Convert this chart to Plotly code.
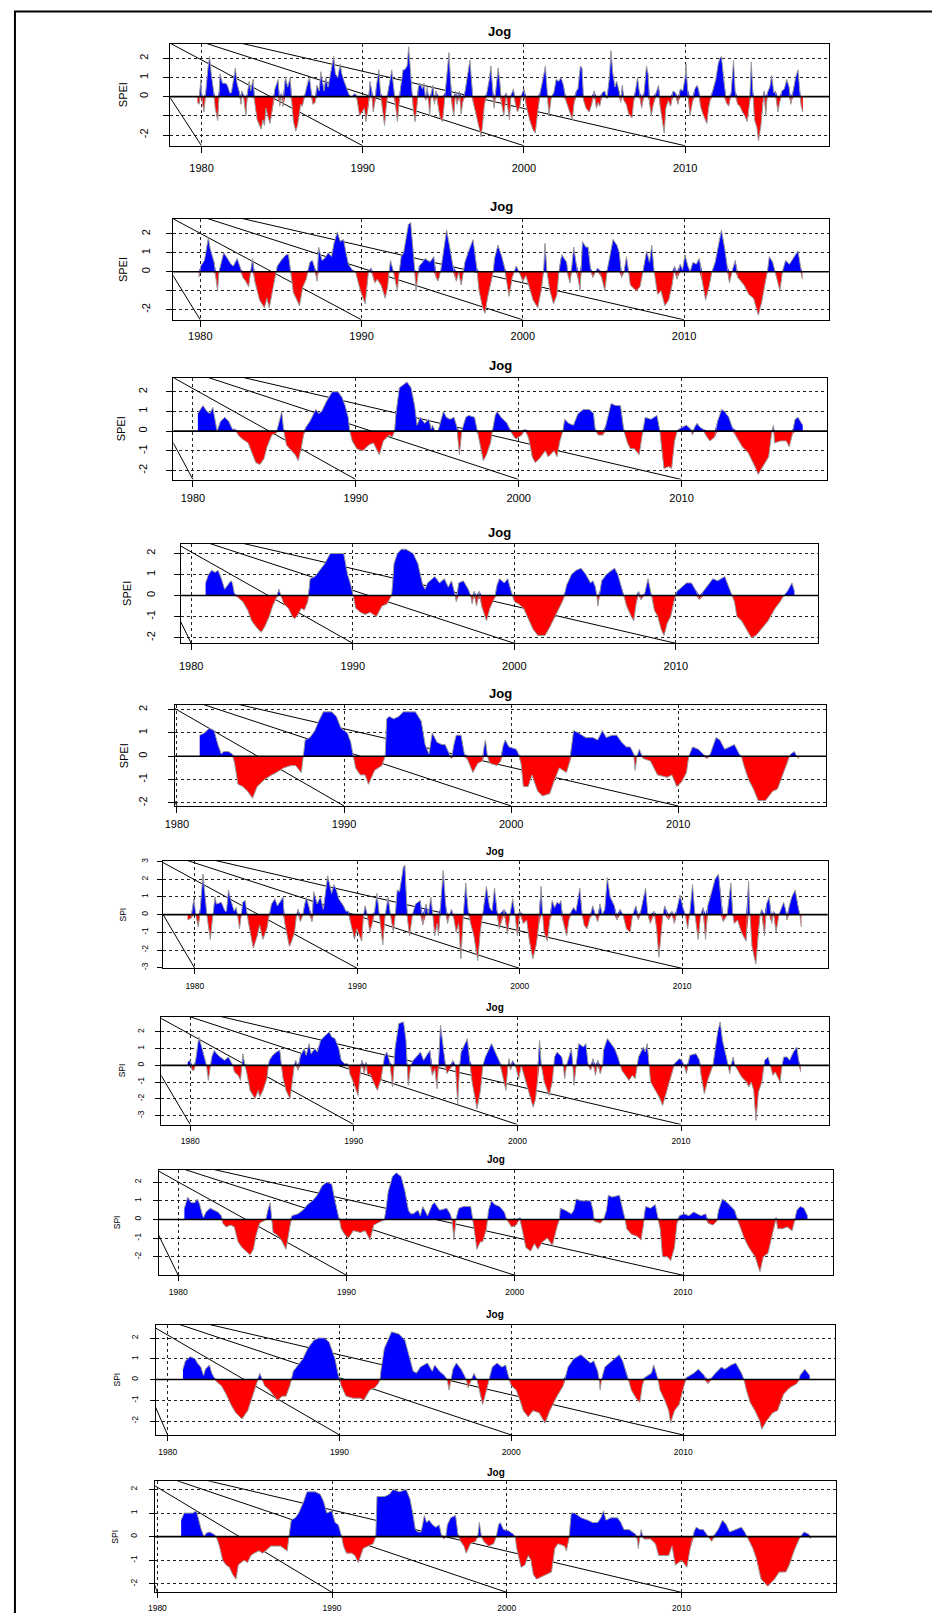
import plotly.graph_objects as go

W, H = 932, 1613
DECADES = [1980, 1990, 2000, 2010]
STATION = "Jog"

# (decimal year, index value)
spei_1 = [(1979.75,-0.3),(1979.85,-0.4),(1979.95,0.9),(1980.05,-0.3),(1980.15,-0.8),(1980.25,0.2),(1980.4,1.5),(1980.5,2.1),(1980.6,1.2),(1980.75,0.3),
(1980.85,-0.6),(1981.0,-1.25),(1981.1,0.3),(1981.15,1.2),(1981.3,0.7),(1981.5,0.7),(1981.6,0.6),(1981.75,0.2),(1981.85,0.2),(1982.0,1.0),
(1982.1,1.5),(1982.2,0.7),(1982.35,0.2),(1982.45,-0.4),(1982.5,0.3),(1982.6,0.1),(1982.75,-1.0),(1982.85,0.2),(1982.95,0.8),(1983.05,0.3),
(1983.2,0.9),(1983.3,-0.3),(1983.45,-1.2),(1983.6,-1.5),(1983.7,-1.7),(1983.8,-1.2),(1983.9,-1.5),(1984.0,-0.6),(1984.1,-1.0),(1984.25,-1.4),
(1984.35,-0.9),(1984.45,-0.3),(1984.55,0.4),(1984.65,0.7),(1984.75,0.9),(1984.85,-0.5),(1984.95,0.2),(1985.05,-0.5),(1985.2,1.0),(1985.35,0.5),
(1985.5,1.0),(1985.6,-0.3),(1985.7,-1.3),(1985.85,-1.8),(1985.95,-1.5),(1986.05,-1.0),(1986.15,-0.4),(1986.25,-0.5),(1986.4,0.1),(1986.6,0.8),
(1986.7,1.0),(1986.8,0.3),(1986.9,-0.4),(1987.05,-0.3),(1987.15,0.6),(1987.3,0.3),(1987.4,1.3),(1987.5,0.8),(1987.6,0.3),(1987.7,1.0),
(1987.85,0.5),(1988.0,1.2),(1988.1,1.6),(1988.2,2.1),(1988.3,1.2),(1988.45,1.0),(1988.6,1.7),(1988.7,1.2),(1988.85,0.8),(1989.0,0.4),
(1989.15,0.1),(1989.3,0.0),(1989.5,0.15),(1989.6,0.1),(1989.7,-0.4),(1989.8,-1.0),(1989.95,-0.8),(1990.1,-0.6),(1990.2,-1.3),(1990.35,-0.4),
(1990.45,0.8),(1990.55,0.3),(1990.65,-0.8),(1990.75,-0.3),(1990.85,0.6),(1991.0,1.4),(1991.1,0.2),(1991.25,-0.8),(1991.35,-1.5),(1991.45,-0.6),
(1991.55,0.2),(1991.7,0.9),(1991.8,1.4),(1991.9,0.6),(1992.0,-0.3),(1992.15,-1.3),(1992.25,-0.4),(1992.35,0.5),(1992.5,1.4),(1992.6,1.4),
(1992.75,1.6),(1992.85,2.6),(1992.95,1.5),(1993.05,0.2),(1993.15,-0.8),(1993.25,-1.3),(1993.35,-0.6),(1993.45,0.5),(1993.55,0.7),(1993.7,0.4),
(1993.8,0.7),(1993.9,-0.2),(1994.0,0.5),(1994.1,-0.4),(1994.15,-1.0),(1994.25,0.2),(1994.35,0.6),(1994.45,-0.4),(1994.55,0.3),(1994.7,-0.6),
(1994.8,-1.1),(1994.95,-1.3),(1995.1,0.2),(1995.25,1.5),(1995.35,2.3),(1995.45,0.8),(1995.55,-0.5),(1995.65,-1.0),(1995.75,0.3),(1995.85,-0.4),
(1996.0,0.3),(1996.1,-0.9),(1996.2,-0.3),(1996.35,0.3),(1996.5,1.0),(1996.65,1.9),(1996.75,0.8),(1996.85,-0.3),(1997.0,-0.8),(1997.2,-1.5),
(1997.35,-2.1),(1997.45,-1.3),(1997.55,-0.4),(1997.7,0.2),(1997.85,0.9),(1997.95,1.6),(1998.05,0.4),(1998.15,-0.6),(1998.25,0.3),(1998.4,1.5),
(1998.5,0.8),(1998.6,-0.3),(1998.75,-1.0),(1998.9,0.2),(1999.0,-0.6),(1999.1,-1.2),(1999.2,0.1),(1999.35,0.4),(1999.45,-0.3),(1999.6,-0.8),
(1999.75,-0.5),(1999.85,0.1),(2000.0,0.4),(2000.15,-0.5),(2000.35,-1.2),(2000.55,-1.7),(2000.7,-1.9),(2000.85,-0.8),(2001.0,0.2),(2001.2,1.0),
(2001.33,1.6),(2001.45,0.2),(2001.55,-1.0),(2001.7,0.0),(2001.85,0.2),(2002.0,0.9),(2002.15,0.8),(2002.3,1.0),(2002.45,0.6),(2002.6,-0.2),
(2002.75,-0.6),(2002.9,-1.0),(2003.0,-1.2),(2003.1,-0.4),(2003.25,0.3),(2003.35,0.4),(2003.5,1.6),(2003.6,1.5),(2003.7,-0.2),(2003.85,-0.6),
(2004.05,-0.8),(2004.2,-0.4),(2004.35,0.3),(2004.5,-0.6),(2004.6,-0.3),(2004.7,-0.5),(2004.85,0.2),(2005.0,0.3),(2005.15,-0.1),(2005.3,1.0),
(2005.4,2.4),(2005.5,1.3),(2005.65,0.5),(2005.75,0.8),(2005.9,0.3),(2006.0,-0.3),(2006.1,0.6),(2006.2,-0.2),(2006.35,-0.4),(2006.5,-0.9),
(2006.7,-1.1),(2006.8,-0.3),(2006.9,0.3),(2007.05,1.0),(2007.15,0.3),(2007.3,-0.6),(2007.45,0.2),(2007.6,1.6),(2007.7,1.2),(2007.8,-0.4),
(2007.9,-1.0),(2008.0,-0.5),(2008.2,0.2),(2008.35,0.6),(2008.45,-0.5),(2008.6,-1.3),(2008.7,-1.9),(2008.8,-0.6),(2008.95,-0.2),(2009.1,-0.5),
(2009.25,0.3),(2009.4,0.2),(2009.55,-0.4),(2009.7,0.4),(2009.85,0.3),(2010.0,1.0),(2010.05,1.7),(2010.15,0.4),(2010.3,-1.0),(2010.45,-0.3),
(2010.6,0.4),(2010.75,0.6),(2010.85,0.3),(2010.95,-0.5),(2011.1,-0.9),(2011.35,-1.4),(2011.45,-0.6),(2011.55,-0.2),(2011.7,0.3),(2011.9,0.9),
(2012.05,1.7),(2012.15,2.0),(2012.25,2.1),(2012.4,0.8),(2012.55,-0.3),(2012.7,-0.5),(2012.85,0.2),(2013.0,1.9),(2013.1,0.3),(2013.25,-0.4),
(2013.4,-0.5),(2013.55,-0.8),(2013.7,-1.0),(2013.85,-1.3),(2014.0,-0.3),(2014.1,1.8),(2014.2,0.2),(2014.3,-1.2),(2014.45,-1.6),(2014.55,-2.3),
(2014.7,-1.5),(2014.8,-0.4),(2014.9,0.3),(2015.0,-1.0),(2015.1,0.2),(2015.25,0.5),(2015.37,1.1),(2015.5,0.2),(2015.6,0.3),(2015.75,-0.8),
(2015.85,-0.3),(2016.0,0.3),(2016.15,0.4),(2016.3,0.9),(2016.45,0.5),(2016.55,-0.4),(2016.7,0.3),(2016.85,1.0),(2017.0,1.4),(2017.1,0.3),
(2017.2,-0.5),(2017.3,-0.8)]

spei_3 = [(1979.91,-0.3),(1980.03,0.3),(1980.26,0.6),(1980.5,1.8),(1980.62,1.2),(1980.86,0.5),(1980.98,-0.4),(1981.07,-1.0),(1981.16,0.0),(1981.31,0.5),
(1981.45,1.0),(1981.69,0.7),(1981.9,0.4),(1982.05,0.3),(1982.29,0.7),(1982.49,0.2),(1982.64,-0.3),(1982.82,-0.5),(1983.0,-0.8),(1983.12,0.0),
(1983.24,0.7),(1983.38,-0.5),(1983.68,-1.5),(1983.98,-1.9),(1984.13,-1.4),(1984.28,-1.9),(1984.43,-1.2),(1984.57,-0.6),(1984.69,0.0),(1984.78,0.3),
(1985.02,0.6),(1985.32,0.9),(1985.47,0.9),(1985.62,0.0),(1985.77,-1.1),(1986.0,-1.5),(1986.15,-1.8),(1986.36,-0.8),(1986.57,-0.4),(1986.69,0.1),
(1986.8,0.5),(1986.95,0.6),(1987.1,0.2),(1987.25,-0.5),(1987.34,1.3),(1987.55,0.6),(1987.7,0.7),(1987.94,1.0),(1988.14,0.8),(1988.29,1.5),
(1988.5,2.1),(1988.68,1.6),(1988.89,1.7),(1989.04,1.0),(1989.19,0.4),(1989.42,0.1),(1989.63,0.0),(1989.72,-0.3),(1989.93,-1.0),(1990.23,-1.7),
(1990.32,-1.0),(1990.43,0.0),(1990.58,0.2),(1990.73,-0.3),(1990.82,-0.6),(1990.97,-0.4),(1991.21,-0.7),(1991.47,-1.4),(1991.62,-0.8),(1991.71,0.0),
(1991.8,0.6),(1991.98,0.0),(1992.22,-1.0),(1992.34,0.0),(1992.46,0.8),(1992.61,1.0),(1992.91,2.5),(1993.05,2.6),(1993.2,1.2),(1993.29,0.2),
(1993.38,-1.0),(1993.5,0.0),(1993.58,0.3),(1993.79,0.5),(1993.94,0.7),(1994.24,0.5),(1994.48,0.8),(1994.63,-0.3),(1994.75,-0.5),(1994.9,0.0),
(1995.07,1.0),(1995.28,2.2),(1995.49,1.2),(1995.67,0.3),(1995.88,-0.5),(1996.03,0.0),(1996.18,-0.7),(1996.33,0.0),(1996.41,0.5),(1996.68,1.2),
(1996.92,1.7),(1997.15,0.2),(1997.29,-1.0),(1997.51,-1.9),(1997.66,-2.2),(1997.81,-1.4),(1998.05,-0.5),(1998.17,0.0),(1998.25,0.7),(1998.46,1.4),
(1998.7,0.8),(1998.88,0.2),(1999.0,-0.5),(1999.15,-1.3),(1999.35,-0.3),(1999.47,0.0),(1999.59,0.3),(1999.77,0.0),(2000.01,-0.5),(2000.19,-0.2),
(2000.4,-0.8),(2000.64,-1.5),(2000.93,-1.9),(2001.14,-1.0),(2001.29,0.0),(2001.38,1.5),(2001.5,0.0),(2001.68,-1.0),(2001.91,-1.7),(2002.12,-1.2),
(2002.24,0.0),(2002.33,0.6),(2002.42,0.9),(2002.72,0.5),(2002.81,-0.2),(2002.93,-0.6),(2003.04,0.2),(2003.16,1.3),(2003.3,0.5),(2003.46,-0.5),
(2003.55,-1.0),(2003.64,0.5),(2003.7,1.6),(2003.91,1.3),(2004.05,1.3),(2004.2,0.2),(2004.35,-0.3),(2004.5,0.0),(2004.65,0.2),(2004.89,-0.3),
(2005.09,-1.0),(2005.24,0.1),(2005.48,1.2),(2005.6,1.7),(2005.84,1.4),(2005.99,1.0),(2006.13,-0.3),(2006.28,0.0),(2006.43,0.8),(2006.58,0.0),
(2006.67,-0.7),(2007.03,-1.0),(2007.27,-0.8),(2007.45,0.0),(2007.68,1.1),(2007.86,0.5),(2008.0,1.4),(2008.15,0.0),(2008.36,-1.2),(2008.57,-1.0),
(2008.81,-1.8),(2009.05,-1.5),(2009.26,-0.7),(2009.41,0.3),(2009.56,-0.4),(2009.76,0.4),(2009.91,0.1),(2010.06,0.9),(2010.24,0.3),(2010.38,0.0),
(2010.55,0.5),(2010.76,0.4),(2010.95,0.7),(2011.13,-0.5),(2011.34,-1.5),(2011.55,-0.8),(2011.73,0.0),(2011.93,0.5),(2012.14,1.4),(2012.32,2.2),
(2012.53,1.2),(2012.68,0.3),(2012.82,-0.6),(2012.97,0.0),(2013.18,0.6),(2013.33,-0.3),(2013.72,-0.7),(2014.02,-1.2),(2014.31,-1.4),(2014.61,-2.3),
(2014.82,-1.6),(2015.05,-0.5),(2015.17,0.0),(2015.29,0.8),(2015.5,0.5),(2015.65,0.0),(2015.8,-0.5),(2015.95,-1.0),(2016.1,0.0),(2016.3,0.6),
(2016.54,0.4),(2016.84,0.8),(2017.07,1.1),(2017.22,0.3),(2017.34,-0.4)]

spei_6 = [(1980.3,0.9),(1980.61,1.3),(1980.86,1.0),(1981.04,0.9),(1981.22,1.2),(1981.33,0.6),(1981.48,0.0),(1981.69,0.5),(1981.95,0.7),(1982.2,0.5),
(1982.42,0.1),(1982.6,0.1),(1982.78,-0.2),(1983.03,-0.4),(1983.39,-0.6),(1983.57,-1.0),(1983.86,-1.6),(1984.11,-1.7),(1984.36,-1.4),(1984.55,-0.8),
(1984.84,-0.2),(1985.12,-0.1),(1985.31,0.5),(1985.45,1.0),(1985.56,0.1),(1985.74,-0.7),(1986.03,-1.0),(1986.28,-1.2),(1986.46,-1.5),(1986.64,-0.9),
(1986.79,-0.2),(1986.93,0.2),(1987.18,0.5),(1987.36,0.8),(1987.54,1.1),(1987.72,0.9),(1987.9,1.0),(1988.19,1.5),(1988.55,2.0),(1988.91,2.0),
(1989.16,1.7),(1989.34,1.3),(1989.53,0.7),(1989.63,0.0),(1989.78,-0.5),(1990.06,-0.9),(1990.43,-1.0),(1990.79,-0.7),(1991.08,-0.6),(1991.44,-1.2),
(1991.69,-0.5),(1992.05,-0.2),(1992.23,-0.3),(1992.38,0.0),(1992.45,0.8),(1992.67,2.2),(1993.14,2.5),(1993.39,2.2),(1993.61,1.3),(1993.76,0.3),
(1993.94,0.7),(1994.23,0.4),(1994.48,0.6),(1994.63,0.1),(1994.7,0.3),(1994.88,0.0),(1995.06,0.05),(1995.24,0.6),(1995.38,1.0),(1995.56,0.7),
(1995.78,0.6),(1996.03,0.7),(1996.21,0.2),(1996.36,-1.2),(1996.5,0.0),(1996.75,0.7),(1996.93,0.8),(1997.29,0.7),(1997.47,0.0),(1997.65,-0.8),
(1997.83,-1.5),(1998.02,-1.2),(1998.27,-0.6),(1998.38,0.0),(1998.56,0.8),(1998.67,1.0),(1998.92,0.7),(1999.28,0.4),(1999.46,0.1),(1999.64,-0.2),
(1999.82,-0.4),(2000.19,-0.2),(2000.37,0.1),(2000.55,-0.2),(2000.62,-0.4),(2000.83,-1.3),(2001.01,-1.6),(2001.27,-1.4),(2001.63,-1.0),(2001.81,-1.3),
(2002.17,-1.0),(2002.35,-1.3),(2002.53,-0.5),(2002.71,0.0),(2002.82,0.6),(2003.07,0.4),(2003.36,0.3),(2003.5,0.6),(2003.65,0.9),(2003.97,1.1),
(2004.33,1.1),(2004.59,0.9),(2004.7,0.1),(2004.88,-0.2),(2005.17,-0.2),(2005.35,0.3),(2005.53,1.0),(2005.67,1.4),(2005.96,1.3),(2006.25,1.3),
(2006.43,0.2),(2006.5,-0.1),(2006.68,-0.6),(2006.86,-0.9),(2007.11,-0.9),(2007.4,-1.2),(2007.58,-0.2),(2007.69,0.3),(2007.76,0.7),(2008.12,0.6),
(2008.49,0.8),(2008.67,0.0),(2008.78,-1.0),(2008.92,-1.9),(2009.21,-1.8),(2009.39,-1.9),(2009.57,-0.5),(2009.75,0.05),(2009.93,0.15),(2010.3,0.3),
(2010.58,0.1),(2010.66,-0.2),(2010.8,0.2),(2010.95,0.4),(2011.13,0.2),(2011.31,0.1),(2011.56,-0.3),(2011.74,-0.5),(2012.03,-0.3),(2012.21,0.5),
(2012.46,1.1),(2012.64,1.0),(2012.9,0.7),(2013.11,0.2),(2013.37,-0.3),(2013.73,-0.8),(2014.09,-1.1),(2014.27,-1.4),(2014.56,-1.9),(2014.7,-2.2),
(2014.99,-1.8),(2015.35,-1.3),(2015.53,-0.1),(2015.64,0.3),(2015.71,-0.6),(2016.07,-0.5),(2016.43,-0.5),(2016.61,-0.8),(2016.79,-0.2),(2016.97,0.6),
(2017.15,0.7),(2017.44,0.3)]

spei_12 = [(1980.89,0.6),(1981.07,1.0),(1981.27,1.2),(1981.48,1.1),(1981.66,1.2),(1981.87,0.8),(1982.07,0.3),(1982.25,0.5),(1982.46,0.7),(1982.55,0.6),
(1982.67,0.1),(1982.91,-0.1),(1983.2,-0.3),(1983.5,-0.7),(1983.74,-1.2),(1984.03,-1.5),(1984.33,-1.75),(1984.54,-1.5),(1984.83,-1.0),(1985.04,-0.5),
(1985.28,-0.1),(1985.43,0.3),(1985.55,0.0),(1985.73,-0.4),(1986.02,-0.6),(1986.26,-1.0),(1986.41,-1.1),(1986.61,-0.9),(1986.82,-0.6),(1987.0,-0.7),
(1987.21,-0.3),(1987.3,0.3),(1987.36,0.8),(1987.66,0.9),(1987.95,1.2),(1988.25,1.5),(1988.61,2.0),(1989.0,2.0),(1989.44,2.0),(1989.68,1.0),
(1989.88,0.5),(1990.03,0.0),(1990.18,-0.6),(1990.48,-0.8),(1990.77,-0.9),(1991.07,-0.8),(1991.46,-1.0),(1991.81,-0.5),(1992.11,-0.4),(1992.26,-0.2),
(1992.4,0.0),(1992.46,0.5),(1992.55,1.5),(1992.76,2.0),(1993.0,2.2),(1993.29,2.2),(1993.74,2.0),(1994.04,1.5),(1994.33,0.5),(1994.48,0.3),
(1994.63,0.6),(1995.08,0.9),(1995.37,0.6),(1995.67,0.8),(1995.91,0.4),(1996.11,0.7),(1996.32,0.1),(1996.41,-0.3),(1996.56,0.6),(1996.85,0.7),
(1997.15,0.3),(1997.3,0.0),(1997.39,-0.4),(1997.51,0.2),(1997.66,-0.5),(1997.83,0.2),(1997.98,-0.5),(1998.19,-1.0),(1998.28,-1.2),(1998.49,-0.6),
(1998.79,-0.1),(1998.93,0.5),(1999.08,0.8),(1999.38,0.6),(1999.59,0.8),(1999.77,0.3),(1999.89,0.0),(2000.01,-0.3),(2000.27,-0.4),(2000.57,-0.6),
(2000.81,-1.0),(2001.16,-1.6),(2001.46,-1.9),(2001.9,-1.9),(2002.2,-1.5),(2002.5,-1.0),(2002.79,-0.6),(2003.03,-0.2),(2003.15,0.2),(2003.24,0.5),
(2003.54,1.0),(2003.83,1.2),(2004.13,1.3),(2004.43,1.0),(2004.72,0.6),(2004.87,0.7),(2005.02,0.4),(2005.11,0.0),(2005.17,-0.5),(2005.29,0.2),
(2005.41,0.7),(2005.7,1.0),(2006.0,1.2),(2006.21,1.3),(2006.41,1.0),(2006.65,0.3),(2006.8,0.0),(2006.95,-0.5),(2007.24,-1.0),(2007.39,-1.2),
(2007.54,-0.4),(2007.69,0.2),(2007.84,-0.2),(2008.07,0.1),(2008.28,0.8),(2008.43,0.2),(2008.52,0.0),(2008.67,-0.7),(2008.88,-1.0),(2009.09,-1.6),
(2009.27,-1.9),(2009.47,-1.3),(2009.68,-1.0),(2009.86,-0.3),(2009.98,0.0),(2010.07,0.2),(2010.36,0.4),(2010.66,0.6),(2010.96,0.6),(2011.26,0.2),
(2011.46,-0.2),(2011.7,0.2),(2012.0,0.5),(2012.29,0.8),(2012.59,0.7),(2013.03,0.9),(2013.33,0.3),(2013.48,0.0),(2013.63,-0.3),(2013.78,-1.0),
(2014.07,-1.2),(2014.37,-1.6),(2014.67,-2.0),(2014.96,-1.9),(2015.41,-1.5),(2015.71,-1.2),(2016.15,-0.6),(2016.45,-0.3),(2016.69,0.0),(2016.9,0.2),
(2017.19,0.6),(2017.34,0.2)]

spei_24 = [(1981.36,0.9),(1981.65,1.0),(1981.93,1.2),(1982.22,1.1),(1982.45,0.5),(1982.65,0.1),(1982.8,0.2),(1983.08,0.2),(1983.31,0.1),(1983.45,-0.3),
(1983.65,-1.2),(1983.94,-1.3),(1984.23,-1.5),(1984.52,-1.8),(1984.8,-1.3),(1985.23,-1.0),(1985.66,-0.8),(1985.95,-0.7),(1986.38,-0.5),(1986.81,-0.4),
(1987.1,-0.4),(1987.44,-0.7),(1987.56,0.0),(1987.67,0.7),(1987.96,0.8),(1988.25,1.1),(1988.48,1.5),(1988.76,1.9),(1989.25,1.9),(1989.54,1.7),
(1989.82,1.2),(1990.2,1.0),(1990.4,0.6),(1990.54,0.0),(1990.69,-0.5),(1990.97,-0.8),(1991.26,-0.8),(1991.46,-1.2),(1991.83,-0.6),(1992.26,-0.4),
(1992.46,0.0),(1992.55,1.6),(1992.7,1.7),(1992.98,1.6),(1993.27,1.7),(1993.55,1.9),(1993.98,1.9),(1994.27,1.9),(1994.62,1.5),(1994.85,0.5),
(1995.08,0.1),(1995.28,1.0),(1995.56,0.6),(1995.85,0.5),(1996.05,0.5),(1996.28,0.1),(1996.43,-0.1),(1996.57,0.5),(1996.71,0.9),(1997.0,0.9),
(1997.2,0.1),(1997.43,-0.2),(1997.71,-0.7),(1998.0,-0.3),(1998.29,-0.2),(1998.38,0.4),(1998.46,0.7),(1998.58,0.0),(1998.72,-0.3),(1999.15,-0.4),
(1999.38,-0.2),(1999.5,0.4),(1999.64,0.7),(1999.87,0.4),(2000.3,0.3),(2000.44,0.1),(2000.59,-0.3),(2000.73,-1.3),(2001.02,-1.3),(2001.24,-0.8),
(2001.59,-1.5),(2001.88,-1.7),(2002.31,-1.6),(2002.6,-1.0),(2002.88,-0.5),(2003.31,-0.7),(2003.51,-0.2),(2003.63,0.5),(2003.74,1.1),(2004.03,1.0),
(2004.46,0.8),(2004.89,0.8),(2005.18,0.7),(2005.46,1.1),(2005.69,0.8),(2006.04,0.9),(2006.32,0.9),(2006.61,0.6),(2006.9,0.4),(2007.13,0.4),
(2007.33,0.1),(2007.42,-0.6),(2007.53,0.0),(2007.67,0.3),(2007.82,0.0),(2007.9,-0.1),(2008.33,-0.2),(2008.76,-0.8),(2009.34,-0.9),(2009.62,-0.8),
(2009.91,-1.3),(2010.2,-1.1),(2010.49,-0.7),(2010.63,0.0),(2010.86,0.4),(2011.2,0.3),(2011.49,0.1),(2011.72,-0.1),(2011.92,0.1),(2012.26,0.8),
(2012.49,0.7),(2012.78,0.3),(2013.07,0.4),(2013.36,0.5),(2013.65,0.1),(2013.78,0.0),(2013.93,-0.4),(2014.21,-1.0),(2014.5,-1.4),(2014.79,-1.9),
(2015.22,-1.9),(2015.65,-1.5),(2015.94,-1.4),(2016.22,-0.9),(2016.51,-0.3),(2016.66,0.0),(2016.74,0.1),(2016.95,0.2),(2017.09,0.0),(2017.23,-0.1)]

spi_1 = [(1979.56,-0.3),(1979.77,-0.2),(1979.94,0.9),(1980.06,0.0),(1980.21,-0.7),(1980.33,0.3),(1980.5,2.3),(1980.62,1.2),(1980.74,0.0),(1980.95,-1.4),
(1981.1,0.0),(1981.24,1.0),(1981.33,0.6),(1981.63,0.7),(1981.77,0.4),(1981.86,0.2),(1981.95,0.2),(1982.07,1.4),(1982.22,0.8),(1982.42,0.2),
(1982.54,0.4),(1982.63,0.0),(1982.75,-0.8),(1982.87,0.0),(1982.95,0.7),(1983.1,0.8),(1983.22,0.0),(1983.31,-0.5),(1983.6,-1.9),(1983.84,-1.2),
(1983.99,-0.6),(1984.19,-1.4),(1984.43,-0.8),(1984.57,0.0),(1984.72,0.6),(1984.93,0.9),(1985.08,0.5),(1985.31,0.8),(1985.43,1.0),(1985.52,-0.4),
(1985.67,-1.2),(1985.82,-1.8),(1985.96,-1.5),(1986.14,-1.0),(1986.26,0.0),(1986.35,0.3),(1986.5,-0.4),(1986.65,0.0),(1986.74,0.5),(1986.86,1.0),
(1987.04,0.4),(1987.21,-0.4),(1987.32,1.3),(1987.53,0.6),(1987.73,1.0),(1987.91,0.3),(1988.18,2.2),(1988.42,1.2),(1988.56,1.7),(1988.71,1.4),
(1988.86,0.9),(1989.15,0.5),(1989.3,0.2),(1989.45,0.2),(1989.6,-0.5),(1989.83,-1.4),(1989.97,-0.8),(1990.27,-1.5),(1990.39,0.0),(1990.48,0.5),
(1990.62,0.0),(1990.77,-1.0),(1990.92,-0.5),(1991.07,0.2),(1991.21,1.2),(1991.36,0.0),(1991.57,-1.7),(1991.72,0.0),(1991.9,1.0),(1992.04,0.0),
(1992.22,-1.0),(1992.34,0.0),(1992.46,1.4),(1992.6,1.3),(1992.84,2.7),(1992.93,2.8),(1993.02,0.8),(1993.1,-0.3),(1993.22,-1.2),(1993.4,0.0),
(1993.58,0.6),(1993.88,0.8),(1994.03,-0.6),(1994.23,0.6),(1994.38,0.0),(1994.53,1.0),(1994.65,0.0),(1994.77,-1.2),(1994.92,-0.5),(1995.0,-1.2),
(1995.12,0.4),(1995.29,2.5),(1995.44,0.6),(1995.56,-0.5),(1995.68,0.0),(1995.8,0.3),(1995.94,-0.2),(1996.09,-1.0),(1996.24,-0.5),(1996.38,-2.5),
(1996.53,0.0),(1996.68,1.8),(1996.83,0.2),(1996.98,-0.5),(1997.18,-1.2),(1997.42,-2.6),(1997.57,-1.0),(1997.72,0.0),(1997.95,1.6),(1998.15,0.4),
(1998.3,0.2),(1998.45,1.5),(1998.59,0.2),(1998.74,-0.8),(1999.04,0.3),(1999.25,-1.1),(1999.4,0.0),(1999.57,0.9),(1999.71,0.0),(1999.86,-1.2),
(2000.01,0.2),(2000.22,-0.5),(2000.43,-0.3),(2000.6,-1.5),(2000.81,-2.5),(2001.02,-1.7),(2001.17,-0.6),(2001.32,1.6),(2001.41,0.0),(2001.5,-1.0),
(2001.7,-1.5),(2001.85,-0.3),(2002.0,0.8),(2002.15,0.4),(2002.3,0.7),(2002.44,0.6),(2002.53,0.8),(2002.65,-0.3),(2002.89,-1.2),(2003.03,-0.3),
(2003.18,0.2),(2003.32,0.4),(2003.47,0.2),(2003.7,1.5),(2003.85,0.0),(2003.97,-0.6),(2004.15,-0.8),(2004.32,-0.2),(2004.5,0.5),(2004.65,0.0),
(2004.8,-0.4),(2004.94,0.6),(2005.09,0.0),(2005.24,0.3),(2005.39,2.1),(2005.57,1.0),(2005.83,0.5),(2005.98,-0.3),(2006.18,0.3),(2006.36,0.0),
(2006.57,-0.8),(2006.8,-1.0),(2006.95,0.0),(2007.16,0.5),(2007.3,-0.3),(2007.45,0.2),(2007.75,1.5),(2007.89,0.0),(2008.04,-0.5),(2008.28,0.2),
(2008.43,-0.8),(2008.57,-2.4),(2008.69,-1.3),(2008.81,0.0),(2008.93,0.5),(2009.17,-0.3),(2009.37,0.2),(2009.52,-0.5),(2009.67,0.3),(2009.87,1.1),
(2010.05,0.4),(2010.2,0.0),(2010.34,-0.8),(2010.46,0.0),(2010.64,1.7),(2010.79,0.0),(2010.99,-1.4),(2011.14,0.0),(2011.29,0.4),(2011.44,-1.4),
(2011.58,0.5),(2011.73,1.0),(2012.03,2.0),(2012.24,2.3),(2012.38,1.0),(2012.53,-0.4),(2012.77,0.0),(2013.0,1.8),(2013.12,0.0),(2013.21,-0.5),
(2013.41,-0.3),(2013.65,-1.0),(2013.94,-1.5),(2014.09,1.9),(2014.18,0.0),(2014.3,-1.8),(2014.54,-2.8),(2014.68,-1.0),(2014.8,0.0),(2014.89,0.3),
(2015.07,-1.2),(2015.19,0.6),(2015.36,1.0),(2015.51,-0.5),(2015.63,0.2),(2015.78,-1.0),(2015.96,0.0),(2016.25,0.7),(2016.37,0.3),(2016.45,-0.3),
(2016.6,0.5),(2016.75,1.0),(2016.96,1.4),(2017.13,0.5),(2017.25,0.0),(2017.34,-0.7)]

spi_3 = [(1979.85,0.2),(1980.0,0.3),(1980.12,-0.3),(1980.23,-0.3),(1980.35,0.4),(1980.53,1.7),(1980.73,1.0),(1980.88,0.4),(1981.0,0.0),(1981.11,-0.9),
(1981.23,0.0),(1981.32,0.5),(1981.47,0.9),(1981.61,0.7),(1981.82,0.5),(1981.99,0.4),(1982.11,0.3),(1982.34,0.5),(1982.49,0.2),(1982.61,0.0),
(1982.7,-0.4),(1982.93,-0.6),(1983.08,-0.9),(1983.17,0.0),(1983.22,0.7),(1983.34,0.0),(1983.43,-0.3),(1983.66,-1.5),(1983.96,-2.0),(1984.16,-1.5),
(1984.25,-1.9),(1984.45,-1.5),(1984.69,-0.8),(1984.78,0.0),(1984.84,0.3),(1985.04,0.6),(1985.28,0.8),(1985.48,0.9),(1985.57,0.0),(1985.66,-0.7),
(1985.86,-1.5),(1986.1,-2.0),(1986.24,-1.0),(1986.36,0.0),(1986.45,0.3),(1986.59,-0.3),(1986.74,0.6),(1986.98,1.0),(1987.09,0.6),(1987.27,1.3),
(1987.39,0.7),(1987.62,1.0),(1987.77,0.8),(1987.97,1.5),(1988.27,1.8),(1988.5,2.0),(1988.65,1.7),(1988.85,1.6),(1989.09,1.0),(1989.23,0.3),
(1989.44,0.1),(1989.61,0.1),(1989.67,0.0),(1989.76,-0.5),(1990.05,-1.2),(1990.26,-1.8),(1990.4,-0.4),(1990.49,0.3),(1990.64,-0.5),(1990.76,0.2),
(1990.84,-0.6),(1990.99,-0.5),(1991.2,-1.0),(1991.44,-1.5),(1991.67,-0.8),(1991.79,0.0),(1991.87,0.5),(1992.02,0.8),(1992.2,0.2),(1992.37,-1.3),
(1992.46,0.0),(1992.52,1.0),(1992.75,2.5),(1993.04,2.6),(1993.19,1.5),(1993.25,0.0),(1993.33,-1.2),(1993.48,0.0),(1993.63,0.3),(1993.83,0.5),
(1994.07,0.8),(1994.27,0.3),(1994.65,0.9),(1994.8,-0.6),(1994.95,-0.2),(1995.09,-1.4),(1995.18,0.0),(1995.3,2.4),(1995.48,1.0),(1995.59,0.0),
(1995.68,-0.5),(1995.89,-0.2),(1996.06,0.3),(1996.21,0.0),(1996.35,-2.3),(1996.47,0.0),(1996.56,0.8),(1996.85,1.4),(1996.94,1.6),(1997.08,0.3),
(1997.23,-1.0),(1997.53,-2.6),(1997.74,-1.5),(1997.89,0.0),(1998.04,0.5),(1998.42,1.3),(1998.63,0.8),(1998.92,0.2),(1999.07,-0.5),(1999.3,-1.5),
(1999.42,0.0),(1999.49,0.4),(1999.58,-0.3),(1999.7,0.3),(1999.87,0.0),(2000.08,-0.8),(2000.23,0.0),(2000.38,-0.5),(2000.67,-1.5),(2000.96,-2.5),
(2001.11,-2.0),(2001.23,-0.8),(2001.35,1.5),(2001.46,0.0),(2001.64,-1.0),(2001.85,-1.5),(2001.93,-1.8),(2002.13,-1.0),(2002.22,0.0),(2002.27,0.5),
(2002.42,0.8),(2002.71,0.5),(2002.8,0.0),(2002.89,-0.8),(2003.0,0.0),(2003.15,0.5),(2003.3,1.0),(2003.39,0.0),(2003.45,-1.2),(2003.59,0.0),
(2003.74,1.3),(2004.03,1.1),(2004.18,1.3),(2004.33,0.0),(2004.47,-0.3),(2004.62,0.4),(2004.77,-0.6),(2004.91,0.3),(2005.06,-0.5),(2005.21,0.0),
(2005.26,0.9),(2005.5,1.6),(2005.64,1.4),(2005.94,1.0),(2006.14,0.5),(2006.29,0.0),(2006.38,-0.3),(2006.82,-0.9),(2007.02,-0.6),(2007.2,-0.8),
(2007.32,0.0),(2007.4,0.5),(2007.7,1.1),(2007.81,0.8),(2007.93,1.3),(2008.05,0.0),(2008.14,-1.0),(2008.43,-1.5),(2008.72,-2.0),(2008.87,-2.4),
(2009.16,-1.4),(2009.45,-0.5),(2009.6,0.1),(2009.89,0.4),(2010.04,0.3),(2010.19,0.0),(2010.33,-0.5),(2010.45,0.2),(2010.54,0.6),(2010.92,0.7),
(2011.13,0.3),(2011.21,-0.5),(2011.42,-1.7),(2011.66,-0.8),(2011.83,-0.3),(2011.95,0.0),(2012.09,1.0),(2012.24,2.0),(2012.39,2.6),(2012.53,1.5),
(2012.77,0.5),(2012.89,0.0),(2012.97,-0.5),(2013.06,0.0),(2013.18,0.5),(2013.29,0.0),(2013.41,-0.2),(2013.7,-0.7),(2014.0,-1.0),(2014.14,-1.3),
(2014.29,-1.0),(2014.44,-1.5),(2014.58,-3.3),(2014.73,-1.6),(2014.94,-1.0),(2015.06,0.0),(2015.11,0.3),(2015.32,0.5),(2015.46,0.0),(2015.61,-0.6),
(2015.76,-0.4),(2016.05,-1.0),(2016.17,0.0),(2016.28,0.5),(2016.49,0.5),(2016.63,0.3),(2016.87,0.8),(2017.07,1.1),(2017.19,0.3),(2017.31,-0.4)]

spi_6 = [(1980.37,0.6),(1980.57,1.2),(1980.77,0.9),(1980.99,0.9),(1981.14,1.1),(1981.28,0.8),(1981.42,0.3),(1981.51,0.1),(1981.65,0.4),(1981.91,0.6),
(1982.13,0.5),(1982.36,0.4),(1982.56,0.2),(1982.65,-0.2),(1982.85,-0.4),(1983.13,-0.3),(1983.33,-0.4),(1983.56,-1.2),(1983.79,-1.5),(1984.27,-1.9),
(1984.47,-1.6),(1984.64,-0.8),(1984.84,-0.2),(1985.07,-0.1),(1985.21,0.0),(1985.33,0.5),(1985.47,0.9),(1985.56,0.0),(1985.64,-0.7),(1985.84,-0.8),
(1986.13,-1.1),(1986.41,-1.6),(1986.64,-0.4),(1986.75,0.2),(1987.12,0.3),(1987.41,0.5),(1987.69,0.8),(1987.98,1.0),(1988.26,1.3),(1988.55,1.8),
(1988.83,2.0),(1989.12,1.9),(1989.32,1.0),(1989.49,0.3),(1989.6,0.0),(1989.69,-0.5),(1989.89,-0.8),(1990.12,-1.0),(1990.41,-0.6),(1990.83,-0.7),
(1991.11,-0.6),(1991.4,-1.1),(1991.62,-0.3),(1991.82,-0.2),(1992.05,-0.1),(1992.25,0.0),(1992.34,0.5),(1992.48,1.5),(1992.73,2.3),(1992.96,2.5),
(1993.25,2.3),(1993.48,1.5),(1993.68,0.5),(1993.82,0.3),(1993.96,0.3),(1994.25,0.5),(1994.39,0.2),(1994.53,0.7),(1994.82,0.2),(1995.1,0.8),
(1995.24,0.9),(1995.53,0.5),(1995.96,0.6),(1996.16,0.3),(1996.27,0.0),(1996.39,-1.1),(1996.5,0.0),(1996.67,0.6),(1996.96,0.7),(1997.38,0.7),
(1997.49,0.1),(1997.58,-0.5),(1997.75,-1.6),(1997.95,-1.2),(1998.09,-1.2),(1998.32,-0.5),(1998.38,0.0),(1998.44,0.5),(1998.61,1.0),(1998.81,0.8),
(1999.09,0.7),(1999.38,0.4),(1999.52,0.0),(1999.66,-0.2),(1999.81,-0.4),(2000.09,-0.3),(2000.29,0.1),(2000.43,-0.5),(2000.66,-1.5),(2000.94,-1.7),
(2001.17,-1.3),(2001.37,-1.6),(2001.65,-1.2),(2001.94,-1.0),(2002.23,-1.4),(2002.51,-0.4),(2002.65,0.0),(2002.71,0.6),(2002.99,0.5),(2003.36,0.3),
(2003.51,0.5),(2003.65,1.1),(2003.94,1.0),(2004.22,1.0),(2004.51,1.0),(2004.65,0.5),(2004.73,-0.1),(2005.08,-0.2),(2005.28,0.0),(2005.45,0.5),
(2005.56,1.3),(2005.79,1.2),(2006.22,1.3),(2006.45,0.4),(2006.56,0.0),(2006.65,-0.5),(2006.94,-0.8),(2007.27,-0.9),(2007.5,-1.1),(2007.65,-0.3),
(2007.7,0.3),(2007.78,0.7),(2008.07,0.6),(2008.35,0.8),(2008.5,0.1),(2008.64,-0.5),(2008.78,-2.0),(2009.07,-2.0),(2009.27,-2.2),(2009.49,-1.5),
(2009.64,-0.2),(2009.78,0.2),(2010.06,0.3),(2010.35,0.2),(2010.63,0.4),(2011.06,0.2),(2011.35,0.3),(2011.49,-0.2),(2011.77,-0.3),(2012.0,-0.1),
(2012.11,0.5),(2012.34,1.1),(2012.63,0.9),(2012.86,0.7),(2013.06,0.5),(2013.2,0.1),(2013.34,-0.3),(2013.63,-1.0),(2013.91,-1.5),(2014.28,-2.0),
(2014.57,-2.8),(2014.77,-2.0),(2015.05,-1.8),(2015.42,-0.3),(2015.53,0.1),(2015.62,-0.5),(2015.91,-0.5),(2016.19,-0.4),(2016.48,-0.6),(2016.62,-0.1),
(2016.76,0.5),(2016.96,0.7),(2017.19,0.6),(2017.39,0.2)]

spi_12 = [(1980.89,0.5),(1981.03,0.9),(1981.31,1.1),(1981.59,1.0),(1981.73,0.8),(1981.93,0.6),(1982.09,0.2),(1982.2,0.5),(1982.43,0.7),(1982.57,0.3),
(1982.71,0.1),(1982.85,-0.1),(1983.13,-0.3),(1983.4,-0.7),(1983.68,-1.2),(1983.96,-1.6),(1984.32,-1.9),(1984.66,-1.5),(1984.94,-0.8),(1985.16,-0.2),
(1985.27,0.1),(1985.36,0.3),(1985.5,0.0),(1985.64,-0.3),(1985.92,-0.5),(1986.19,-0.8),(1986.39,-1.0),(1986.67,-0.8),(1986.89,-0.8),(1987.11,-0.3),
(1987.23,0.1),(1987.31,0.4),(1987.59,0.7),(1987.87,1.0),(1988.15,1.5),(1988.51,1.9),(1988.79,2.0),(1989.12,2.0),(1989.4,1.8),(1989.74,1.0),
(1989.91,0.3),(1990.02,0.0),(1990.1,-0.3),(1990.38,-0.8),(1990.8,-0.9),(1991.22,-0.9),(1991.41,-1.0),(1991.77,-0.5),(1992.05,-0.4),(1992.25,-0.2),
(1992.36,0.0),(1992.42,0.5),(1992.61,1.5),(1993.03,2.3),(1993.45,2.2),(1993.81,1.9),(1994.09,1.0),(1994.29,0.4),(1994.48,0.3),(1994.7,0.6),
(1995.12,0.8),(1995.4,0.4),(1995.54,0.7),(1995.82,0.4),(1996.1,0.2),(1996.27,0.0),(1996.38,-0.5),(1996.49,0.0),(1996.6,0.5),(1996.8,0.8),
(1997.08,0.5),(1997.27,0.2),(1997.38,0.0),(1997.49,-0.4),(1997.66,0.0),(1997.83,0.3),(1998.0,0.0),(1998.14,-0.5),(1998.33,-1.2),(1998.56,-0.5),
(1998.69,0.0),(1998.89,0.6),(1999.17,0.8),(1999.45,0.6),(1999.67,0.7),(1999.81,0.2),(1999.92,-0.1),(2000.0,-0.3),(2000.28,-0.5),(2000.51,-1.0),
(2000.7,-1.5),(2000.98,-1.8),(2001.26,-1.5),(2001.62,-1.6),(2001.96,-2.1),(2002.24,-1.5),(2002.66,-0.8),(2003.02,-0.3),(2003.16,0.2),(2003.3,0.6),
(2003.63,1.0),(2004.05,1.2),(2004.33,1.0),(2004.61,0.8),(2004.8,0.9),(2005.03,0.4),(2005.11,0.0),(2005.17,-0.5),(2005.25,0.0),(2005.44,0.6),
(2005.72,0.8),(2006.0,1.0),(2006.28,1.2),(2006.48,0.9),(2006.7,0.3),(2006.84,0.0),(2006.98,-0.5),(2007.26,-0.9),(2007.48,-1.1),(2007.62,-0.3),
(2007.76,0.1),(2007.96,0.2),(2008.15,0.3),(2008.29,0.7),(2008.46,0.2),(2008.54,0.0),(2008.65,-0.5),(2008.93,-1.0),(2009.16,-1.5),(2009.27,-2.1),
(2009.49,-1.5),(2009.77,-1.2),(2010.05,-0.3),(2010.19,0.1),(2010.61,0.3),(2010.89,0.5),(2011.22,0.2),(2011.44,-0.2),(2011.67,0.1),(2011.87,0.3),
(2012.23,0.6),(2012.42,0.5),(2012.79,0.7),(2013.06,0.8),(2013.4,0.3),(2013.54,0.0),(2013.68,-0.5),(2013.9,-1.1),(2014.18,-1.5),(2014.46,-2.0),
(2014.57,-2.4),(2014.85,-2.0),(2015.21,-1.6),(2015.49,-1.5),(2015.85,-0.7),(2016.19,-0.4),(2016.61,-0.2),(2016.75,0.0),(2016.8,0.2),(2017.08,0.5),
(2017.36,0.2)]

spi_24 = [(1981.36,0.7),(1981.53,1.0),(1981.76,1.0),(1982.04,1.0),(1982.23,1.1),(1982.36,0.7),(1982.51,0.3),(1982.67,0.0),(1982.8,0.15),(1982.99,0.2),
(1983.23,0.1),(1983.37,0.0),(1983.55,-0.4),(1983.74,-1.0),(1983.93,-1.2),(1984.12,-1.3),(1984.31,-1.6),(1984.5,-1.8),(1984.63,-1.2),(1984.78,-1.1),
(1984.97,-1.0),(1985.16,-1.1),(1985.35,-0.8),(1985.54,-0.7),(1985.82,-0.6),(1986.01,-0.7),(1986.2,-0.6),(1986.49,-0.4),(1986.77,-0.4),(1987.05,-0.4),
(1987.24,-0.5),(1987.43,-0.6),(1987.53,0.0),(1987.66,0.7),(1987.9,0.8),(1988.09,1.0),(1988.38,1.5),(1988.56,1.9),(1989.04,1.9),(1989.32,1.8),
(1989.51,1.5),(1989.7,1.0),(1989.98,1.1),(1990.17,0.6),(1990.36,0.5),(1990.55,0.0),(1990.65,-0.4),(1990.83,-0.7),(1991.12,-0.7),(1991.31,-0.8),
(1991.5,-1.1),(1991.78,-0.5),(1992.06,-0.4),(1992.35,-0.3),(1992.5,0.0),(1992.57,1.7),(1993.01,1.7),(1993.29,1.8),(1993.48,2.0),(1993.86,1.9),
(1994.24,2.0),(1994.46,1.6),(1994.62,1.0),(1994.77,0.3),(1994.9,0.2),(1995.09,0.2),(1995.18,0.5),(1995.28,0.9),(1995.41,0.6),(1995.56,0.7),
(1995.75,0.5),(1995.94,0.4),(1996.13,0.5),(1996.28,0.0),(1996.41,-0.1),(1996.51,0.0),(1996.6,0.5),(1996.79,0.8),(1997.07,0.9),(1997.21,0.1),
(1997.36,-0.2),(1997.55,-0.4),(1997.68,-0.7),(1997.92,-0.3),(1998.21,-0.2),(1998.34,0.0),(1998.43,0.6),(1998.55,0.0),(1998.68,-0.2),(1998.96,-0.4),
(1999.25,-0.3),(1999.4,0.0),(1999.53,0.5),(1999.63,0.6),(1999.81,0.3),(2000.1,0.25),(2000.38,0.1),(2000.48,0.0),(2000.57,-0.5),(2000.7,-1.0),
(2000.82,-1.3),(2001.04,-1.2),(2001.23,-0.8),(2001.38,-1.0),(2001.52,-1.6),(2001.7,-1.8),(2001.99,-1.7),(2002.27,-1.6),(2002.56,-1.5),(2002.75,-0.5),
(2002.93,-0.3),(2003.31,-0.4),(2003.41,-0.6),(2003.56,-0.1),(2003.63,0.5),(2003.69,1.0),(2003.88,1.0),(2004.26,0.8),(2004.64,0.7),(2004.92,0.6),
(2005.2,0.6),(2005.39,0.8),(2005.54,1.1),(2005.68,0.7),(2005.96,0.8),(2006.34,0.8),(2006.53,0.6),(2006.71,0.3),(2007.0,0.3),(2007.19,0.2),
(2007.38,0.1),(2007.47,-0.1),(2007.53,-0.5),(2007.62,0.0),(2007.7,0.3),(2007.78,0.0),(2007.85,-0.1),(2008.23,-0.1),(2008.51,-0.3),(2008.7,-0.8),
(2008.98,-0.8),(2009.27,-0.8),(2009.46,-0.4),(2009.65,-1.2),(2010.02,-1.0),(2010.31,-1.3),(2010.5,-0.5),(2010.65,-0.1),(2010.72,0.2),(2010.84,0.4),
(2011.06,0.3),(2011.25,0.3),(2011.54,0.0),(2011.73,-0.2),(2011.91,0.1),(2012.1,0.3),(2012.35,0.7),(2012.57,0.5),(2012.76,0.2),(2013.05,0.3),
(2013.43,0.4),(2013.62,0.2),(2013.75,0.0),(2013.9,-0.2),(2014.09,-0.5),(2014.28,-0.9),(2014.56,-1.8),(2014.94,-2.1),(2015.32,-1.8),(2015.6,-1.5),
(2015.98,-1.5),(2016.17,-1.2),(2016.45,-0.6),(2016.74,-0.1),(2016.83,0.0),(2016.89,0.1),(2017.02,0.2),(2017.3,0.1),(2017.4,-0.1)]

# panel layout (pixel boxes measured on the reference) and axis ranges
PANELS = [
    dict(data=spei_1, lab="SPEI", big=True, box=(162, 828, 40.7, 143.3), xr=(1978.06, 2018.93), yr=(-2.56, 2.77),
         org=(1974.67, 4.30), yt=[-2, -1, 0, 1, 2], hide=[-1], ty=29, lx=117.7, ytx=144, xty=165),
    dict(data=spei_3, lab="SPEI", big=True, box=(165.1, 827.7, 216.7, 318), xr=(1978.33, 2018.98), yr=(-2.54, 2.79),
         org=(1975.07, 4.28), yt=[-2, -1, 0, 1, 2], hide=[-1], ty=204, lx=119, ytx=145.7, xty=333),
    dict(data=spei_6, lab="SPEI", big=True, box=(165.2, 826.2, 376, 478.3), xr=(1978.8, 2018.95), yr=(-2.46, 2.72),
         org=(1975.7, 4.15), yt=[-2, -1, 0, 1, 2], hide=[], ty=364, lx=116, ytx=143, xty=496.7),
    dict(data=spei_12, lab="SPEI", big=True, box=(172.4, 817.1, 543, 642.7), xr=(1979.34, 2018.82), yr=(-2.27, 2.45),
         org=(1976.2, 3.72), yt=[-2, -1, 0, 1, 2], hide=[], ty=531.7, lx=121.5, ytx=151.5, xty=664.6),
    dict(data=spei_24, lab="SPEI", big=True, box=(166.6, 825.3, 704.7, 806), xr=(1979.87, 2018.87), yr=(-2.13, 2.19),
         org=(1976.6, 3.39), yt=[-2, -1, 0, 1, 2], hide=[], ty=692.7, lx=119, ytx=144, xty=824),
    dict(data=spi_1, lab="SPI", big=False, box=(154.5, 826.7, 861.3, 969), xr=(1978.03, 2018.97), yr=(-3.04, 3.03),
         org=(1975.26, 4.34), yt=[-3, -2, -1, 0, 1, 2, 3], hide=[], ty=852, lx=118, ytx=143.3, xty=986),
    dict(data=spi_3, lab="SPI", big=False, box=(153, 827.7, 1017.3, 1125.7), xr=(1978.24, 2019.03), yr=(-3.54, 2.92),
         org=(1975.16, 4.46), yt=[-3, -2, -1, 0, 1, 2], hide=[], ty=1008, lx=117, ytx=139, xty=1141.7),
    dict(data=spi_6, lab="SPI", big=False, box=(150.6, 831.6, 1171, 1277), xr=(1978.86, 2018.89), yr=(-2.99, 2.67),
         org=(1976.3, 3.86), yt=[-3, -2, -1, 0, 1, 2], hide=[], ty=1161, lx=113, ytx=136, xty=1294),
    dict(data=spi_12, lab="SPI", big=False, box=(147.2, 834, 1326.7, 1437.3), xr=(1979.3, 2018.84), yr=(-2.67, 2.64),
         org=(1976.6, 3.78), yt=[-2, -1, 0, 1, 2], hide=[], ty=1316.7, lx=111.8, ytx=133.6, xty=1454),
    dict(data=spi_24, lab="SPI", big=False, box=(146.7, 835, 1483.7, 1595.3), xr=(1979.87, 2018.85), yr=(-2.36, 2.35),
         org=(1977.1, 3.38), yt=[-2, -1, 0, 1, 2], hide=[], ty=1475, lx=110, ytx=132, xty=1610),
]

FONT = "Liberation Sans, Arial, sans-serif"
fig = go.Figure()
layout = dict(width=W, height=H, margin=dict(l=0, r=0, t=0, b=0), paper_bgcolor="white",
              plot_bgcolor="white", showlegend=False, hovermode=False, annotations=[], shapes=[])

for i, p in enumerate(PANELS, start=1):
    xa = "x" if i == 1 else f"x{i}"
    ya = "y" if i == 1 else f"y{i}"
    L, R, T, B = p["box"]
    ts = 8.5 if not p["big"] else 11
    tls = 8.5 if not p["big"] else 11
    ttl = 10 if not p["big"] else 13
    t = [a for a, b in p["data"]]
    v = [b for a, b in p["data"]]
    pos = [max(b, 0) for b in v]
    neg = [min(b, 0) for b in v]
    ymin = p["yr"][0]
    # diagonal reference strokes from a common point to each decade on the lower frame
    lx, ly = [], []
    for d in DECADES:
        lx += [p["org"][0], d, None]
        ly += [p["org"][1], ymin, None]
    fig.add_trace(go.Scatter(x=lx, y=ly, mode="lines", line=dict(color="black", width=1), xaxis=xa, yaxis=ya))
    fig.add_trace(go.Scatter(x=t, y=pos, mode="lines", fill="tozeroy", fillcolor="#0000ff",
                             line=dict(width=0, color="#0000ff"), xaxis=xa, yaxis=ya))
    fig.add_trace(go.Scatter(x=t, y=neg, mode="lines", fill="tozeroy", fillcolor="#ff0000",
                             line=dict(width=0, color="#ff0000"), xaxis=xa, yaxis=ya))
    fig.add_trace(go.Scatter(x=t, y=v, mode="lines", line=dict(color="#9a9a9a", width=1), xaxis=xa, yaxis=ya))

    xkey = "xaxis" if i == 1 else f"xaxis{i}"
    ykey = "yaxis" if i == 1 else f"yaxis{i}"
    ticklen = 6 if p["big"] else 5
    xstand = int(round(max(0, p["xty"] - B - ticklen - 0.9 * ts)))
    ystand = int(round(max(0, L - ticklen - 1 - p["ytx"])))
    layout[xkey] = dict(domain=[L / W, R / W], anchor=ya, range=list(p["xr"]), tickvals=DECADES,
                        ticktext=[str(d) for d in DECADES], ticks="outside", ticklen=ticklen, tickwidth=1,
                        tickcolor="black", showline=True, mirror=True, linecolor="black", linewidth=1,
                        showgrid=True, gridcolor="#222222", griddash="dot", gridwidth=1, zeroline=False,
                        tickfont=dict(family=FONT, size=ts, color="black"), ticklabelstandoff=xstand)
    layout[ykey] = dict(domain=[1 - B / H, 1 - T / H], anchor=xa, range=list(p["yr"]), tickvals=p["yt"],
                        ticktext=["" if k in p["hide"] else str(k) for k in p["yt"]], ticks="outside",
                        ticklen=ticklen, tickwidth=1, tickcolor="black", showline=True, mirror=True,
                        linecolor="black", linewidth=1, showgrid=True, gridcolor="#222222", griddash="dot",
                        gridwidth=1, zeroline=False, tickangle=-90,
                        tickfont=dict(family=FONT, size=ts, color="black"), ticklabelstandoff=ystand)
    # zero reference line
    layout["shapes"].append(dict(type="line", xref=f"{xa} domain", x0=0, x1=1, yref=ya, y0=0, y1=0,
                                 line=dict(color="black", width=1.6), layer="above"))
    layout["annotations"].append(dict(text=STATION, xref="paper", yref="paper", x=(L + R) / 2 / W,
                                      y=1 - p["ty"] / H, showarrow=False, xanchor="center", yanchor="middle",
                                      font=dict(family=FONT, size=ttl, color="black", weight="bold")))
    layout["annotations"].append(dict(text=p["lab"], xref="paper", yref="paper", x=(p["lx"] - 4) / W,
                                      y=1 - (T + B) / 2 / H, showarrow=False, xanchor="center",
                                      yanchor="middle", textangle=-90,
                                      font=dict(family=FONT, size=tls, color="black")))

# outer frame of the page
layout["shapes"].append(dict(type="rect", xref="paper", yref="paper", x0=5 / W, x1=1.02, y0=-0.02,
                             y1=1 - 8.5 / H, line=dict(color="black", width=2), layer="above"))
fig.update_layout(**layout)
fig.write_html("out.html")
